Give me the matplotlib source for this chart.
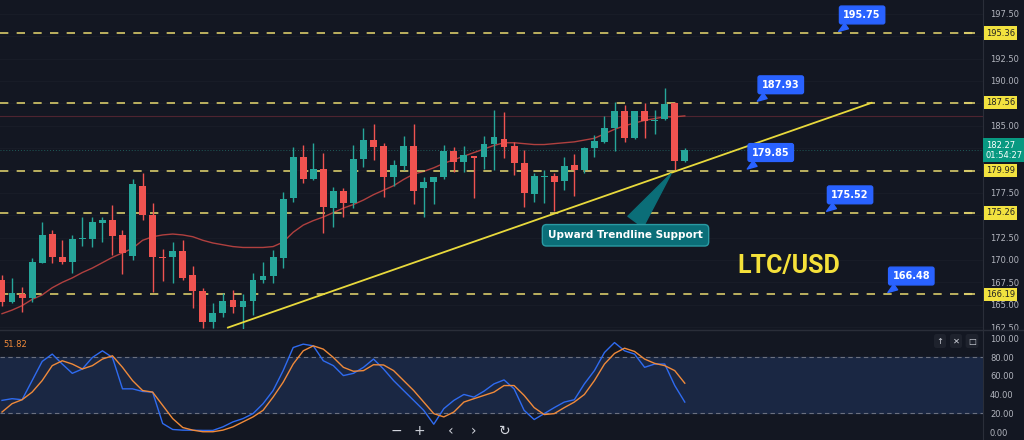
import numpy as np
import matplotlib.pyplot as plt

# LTC/USD candles (one per bar, left to right)
opens = [167.8, 165.3, 166.2, 165.8, 169.7, 172.9, 170.3, 169.8, 172.3, 172.4,
         174.1, 174.5, 172.8, 170.4, 178.3, 175.0, 170.3, 170.3, 171.0, 168.3,
         166.5, 163.1, 164.1, 165.5, 164.8, 165.4, 167.8, 168.2, 170.2, 176.9,
         181.5, 179.0, 180.2, 175.8, 177.7, 176.4, 181.3, 183.4, 182.7, 179.3,
         180.5, 182.7, 178.0, 178.7, 179.3, 182.2, 181.0, 181.6, 181.5, 183.0,
         183.5, 182.7, 180.8, 177.4, 179.3, 179.4, 178.8, 180.6, 180.1, 182.5,
         183.2, 184.7, 186.6, 183.6, 186.6, 185.5, 185.7, 187.5, 181.1]
highs = [168.3, 168.0, 167.0, 170.2, 174.2, 173.3, 172.2, 172.8, 174.8, 174.8,
         174.8, 176.1, 173.4, 179.1, 179.7, 176.4, 171.2, 172.0, 172.2, 169.3,
         166.9, 165.2, 166.3, 166.6, 166.2, 168.5, 169.8, 171.1, 177.6, 182.6,
         182.8, 183.1, 182.0, 178.2, 178.0, 182.8, 184.7, 185.2, 183.1, 181.2,
         183.9, 185.2, 179.3, 179.3, 182.8, 182.6, 182.7, 181.6, 183.8, 186.8,
         186.5, 183.2, 182.3, 179.7, 180.0, 179.7, 181.5, 181.8, 182.6, 184.0,
         186.1, 187.7, 187.3, 186.7, 187.5, 186.8, 189.2, 187.6, 182.5]
lows = [164.9, 165.2, 164.2, 165.3, 169.7, 169.7, 169.6, 168.6, 171.6, 171.5,
        172.0, 170.6, 168.4, 170.0, 174.5, 166.4, 167.7, 167.4, 167.8, 164.6,
        162.4, 162.4, 163.6, 164.1, 162.2, 163.9, 167.4, 167.4, 169.1, 176.5,
        178.6, 178.9, 173.0, 173.7, 174.8, 175.8, 180.4, 181.2, 177.0, 178.3,
        180.0, 176.3, 174.8, 176.3, 179.0, 179.8, 179.8, 176.9, 180.2, 180.1,
        181.4, 179.5, 175.9, 176.5, 176.4, 175.5, 177.8, 177.2, 179.7, 181.5,
        183.1, 182.2, 183.2, 183.5, 183.6, 184.1, 185.6, 179.9, 180.9]
closes = [165.3, 166.3, 165.8, 169.8, 172.8, 170.3, 169.8, 172.4, 172.5, 174.2,
          174.5, 172.7, 170.8, 178.5, 175.0, 170.3, 170.2, 171.0, 168.0, 166.5,
          163.1, 164.1, 165.4, 164.7, 165.4, 167.8, 168.2, 170.3, 176.8, 181.5,
          179.0, 180.2, 175.9, 177.7, 176.4, 181.3, 183.4, 182.6, 179.3, 180.6,
          182.7, 177.7, 178.7, 179.3, 182.2, 181.0, 181.7, 181.4, 183.0, 183.7,
          182.6, 180.8, 177.5, 179.4, 179.4, 178.7, 180.5, 180.1, 182.5, 183.3,
          184.7, 186.6, 183.6, 186.6, 185.5, 185.6, 187.4, 181.1, 182.3]
ma_line = [164.0, 164.4, 164.9, 165.6, 166.1, 166.9, 167.5, 168.0, 168.6, 169.1,
           169.7, 170.3, 170.8, 171.3, 172.2, 172.6, 172.8, 172.9, 172.8, 172.6,
           172.2, 171.9, 171.7, 171.5, 171.4, 171.4, 171.4, 171.5, 172.0, 173.1,
           173.9, 174.4, 174.8, 175.3, 175.8, 176.2, 176.7, 177.3, 177.8, 178.3,
           179.0, 179.6, 179.9, 180.3, 180.8, 181.2, 181.6, 182.0, 182.4, 182.8,
           183.1, 183.1, 183.0, 182.9, 182.9, 183.0, 183.1, 183.2, 183.4, 183.6,
           184.1, 184.6, 185.0, 185.3, 185.6, 185.8, 186.0, 186.0, 186.1]

# stochastic RSI panel
stoch_k = [33.8, 35.6, 34.5, 54.9, 75.3, 83.1, 72.5, 62.6, 67.2, 79.5,
           86.6, 79.5, 46.1, 46.1, 43.3, 42.6, 9.2, 2.8, 2.1, 2.0,
           1.8, 1.8, 5.6, 10.9, 14.4, 19.7, 30.3, 44.3, 65.5, 90.1,
           93.7, 91.9, 76.0, 70.8, 60.2, 62.6, 69.0, 77.8, 67.2, 54.9,
           44.3, 33.8, 23.2, 8.4, 25.0, 33.8, 40.1, 37.3, 43.6, 51.4,
           55.6, 46.1, 23.2, 13.4, 19.7, 26.1, 32.0, 34.5, 51.4, 65.5,
           84.8, 95.4, 86.6, 83.1, 69.0, 72.5, 72.5, 49.6, 32.0]
stoch_d = [21.4, 30.3, 34.5, 42.6, 54.9, 70.8, 76.0, 72.5, 67.2, 70.8,
           77.8, 81.3, 69.0, 54.9, 44.3, 42.6, 28.5, 14.4, 4.9, 2.1,
           0.4, 0.4, 2.1, 5.6, 10.9, 16.2, 23.2, 37.3, 53.1, 72.5,
           86.6, 91.9, 88.4, 79.5, 69.0, 64.8, 65.5, 71.8, 71.5, 65.5,
           54.9, 44.3, 32.0, 19.7, 16.2, 21.4, 32.0, 35.6, 39.1, 42.6,
           49.6, 49.6, 39.1, 26.1, 18.7, 19.7, 26.1, 32.0, 40.1, 54.9,
           72.5, 83.8, 89.4, 85.9, 77.8, 73.2, 70.8, 65.5, 52.1]
stoch_label = "51.82"

levels = [195.36, 187.56, 179.99, 175.26, 166.19]
callouts = ["195.75", "187.93", "179.85", "175.52", "166.48"]
callout_bar = [83.1, 75.0, 74.0, 81.9, 88.0]
trend_bars = [22.5, 86.6]
trend_prices = [162.45, 187.56]
last_price = 182.27
price_ticks = [162.5, 165.0, 167.5, 170.0, 172.5, 177.5, 185.0, 190.0, 192.5, 197.5]
osc_ticks = [0, 20, 40, 60, 80, 100]

BG = "#131722"
UP, DOWN = "#26a69a", "#ef5350"
TXT = "#b2b5be"

fig = plt.figure(figsize=(10.24, 4.4), dpi=100, facecolor=BG)
ax = fig.add_axes([0, 1 - 329 / 440, 983 / 1024, 329 / 440], facecolor=BG)
ax2 = fig.add_axes([0, 0, 983 / 1024, 109 / 440], facecolor=BG)

idx = np.arange(len(opens))
o, h, l, c = map(np.array, (opens, highs, lows, closes))
cols = np.where(c >= o, UP, DOWN)

ax.set_xlim(-0.2, 97.7)
ax.set_ylim(162.29, 199.05)
for y in np.arange(162.5, 199, 2.5):
    ax.axhline(y, color="#1a1e29", lw=0.6, zorder=0)

ax.vlines(idx, l, h, colors=cols, lw=1, zorder=3)
ax.bar(idx, np.maximum(np.abs(c - o), 0.12), bottom=np.minimum(o, c),
       width=0.68, color=cols, zorder=4)
ax.plot(idx, ma_line, color="#b0403f", lw=1, zorder=2)
ax.axhline(ma_line[-1], color="#4e2430", lw=0.8, zorder=1)
ax.axhline(last_price, color="#1f5c5a", lw=0.7, ls=(0, (1, 2)), zorder=1)

for lvl in levels:
    ax.axhline(lvl, color="#d8cb6a", lw=1.2, ls=(0, (5, 5)), zorder=2)
    ax.plot([0.982, 0.988], [lvl, lvl], transform=ax.get_yaxis_transform(),
            color="#d8cb6a", lw=1.5, clip_on=False)
    ax.text(1.003, lvl, f"{lvl:.2f}", transform=ax.get_yaxis_transform(),
            ha="left", va="center", fontsize=6, color="#222222", clip_on=False,
            bbox=dict(boxstyle="square,pad=0.25", fc="#f2e23f", ec="none"))

ax.plot(trend_bars, trend_prices, color="#e8d93c", lw=1.3, zorder=5)

blue = "#2962ff"
for lab, bx, lvl in zip(callouts, callout_bar, levels):
    ax.annotate(lab, xy=(bx, lvl), xytext=(18.5, 13), textcoords="offset points",
                ha="center", va="center", fontsize=7, fontweight="bold", color="white",
                bbox=dict(boxstyle="round,pad=0.4,rounding_size=0.2", fc=blue, ec=blue),
                arrowprops=dict(arrowstyle="wedge,tail_width=0.7", fc=blue, ec=blue),
                zorder=6)

ax.annotate("Upward Trendline Support", xy=(66.8, 179.9), xytext=(-34, -46),
            textcoords="offset points", ha="center", va="center", fontsize=7.5,
            fontweight="bold", color="white",
            bbox=dict(boxstyle="round,pad=0.55,rounding_size=0.4", fc="#0b6e78", ec="#2a9aa3", lw=1),
            arrowprops=dict(arrowstyle="wedge,tail_width=1.8", fc="#0b6e78", ec="#0b6e78"),
            zorder=6)

ax.text(78.4, 169.3, "LTC/USD", ha="center", va="center", fontsize=18,
        fontweight="bold", color="#f5e13a", family=["Liberation Sans Narrow", "Roboto"],
        zorder=6)

ax.yaxis.tick_right()
ax.set_yticks(price_ticks)
ax.set_yticklabels([f"{t:.2f}" for t in price_ticks])
ax.tick_params(axis="y", length=0, pad=5, labelsize=6, labelcolor=TXT)
ax.set_xticks([])
ax.text(1.003, last_price, f"{last_price:.2f}\n01:54:27", transform=ax.get_yaxis_transform(),
        ha="left", va="center", fontsize=6, color="white", linespacing=1.1, clip_on=False,
        bbox=dict(boxstyle="square,pad=0.3", fc="#089981", ec="none"))

# oscillator panel
ax2.set_xlim(-0.2, 97.7)
ax2.set_ylim(-8.4, 107.7)
ax2.axhspan(20, 80, color="#1a2743", zorder=0)
for y in (20, 80):
    ax2.axhline(y, color="#6b7080", lw=0.8, ls=(0, (4, 3)), zorder=1)
ax2.plot(idx, stoch_k, color="#2f6bf0", lw=1, zorder=3)
ax2.plot(idx, stoch_d, color="#f08a3a", lw=1, zorder=3)
ax2.yaxis.tick_right()
ax2.set_yticks(osc_ticks)
ax2.set_yticklabels([f"{t:.2f}" for t in osc_ticks])
ax2.tick_params(axis="y", length=0, pad=5, labelsize=6, labelcolor=TXT)
ax2.set_xticks([])
ax2.text(0.003, 0.88, stoch_label, transform=ax2.transAxes,
         fontsize=6, color="#f08a3a", va="center")

for a in (ax, ax2):
    for s in a.spines.values():
        s.set_visible(False)
    a.spines["right"].set_visible(True)
    a.spines["right"].set_color("#2a2e39")

fig.add_artist(plt.Line2D([0, 1], [1 - 330 / 440] * 2, color="#2a2e39", lw=1))

for gx, g in [(940, "↑"), (956, "✕"), (972, "□")]:
    fig.text(gx / 1024, 1 - 341 / 440, g, ha="center", va="center", fontsize=6,
             color="#d1d4dc", bbox=dict(boxstyle="round,pad=0.3", fc="#1e222d", ec="none"))
for gx, g in [(396, "−"), (419, "+"), (451, "‹"), (474, "›"), (505, "↻")]:
    fig.text(gx / 1024, 1 - 431 / 440, g, ha="center", va="center", fontsize=10,
             color="#d1d4dc")

fig.savefig("out.png", dpi=100, facecolor=BG)
